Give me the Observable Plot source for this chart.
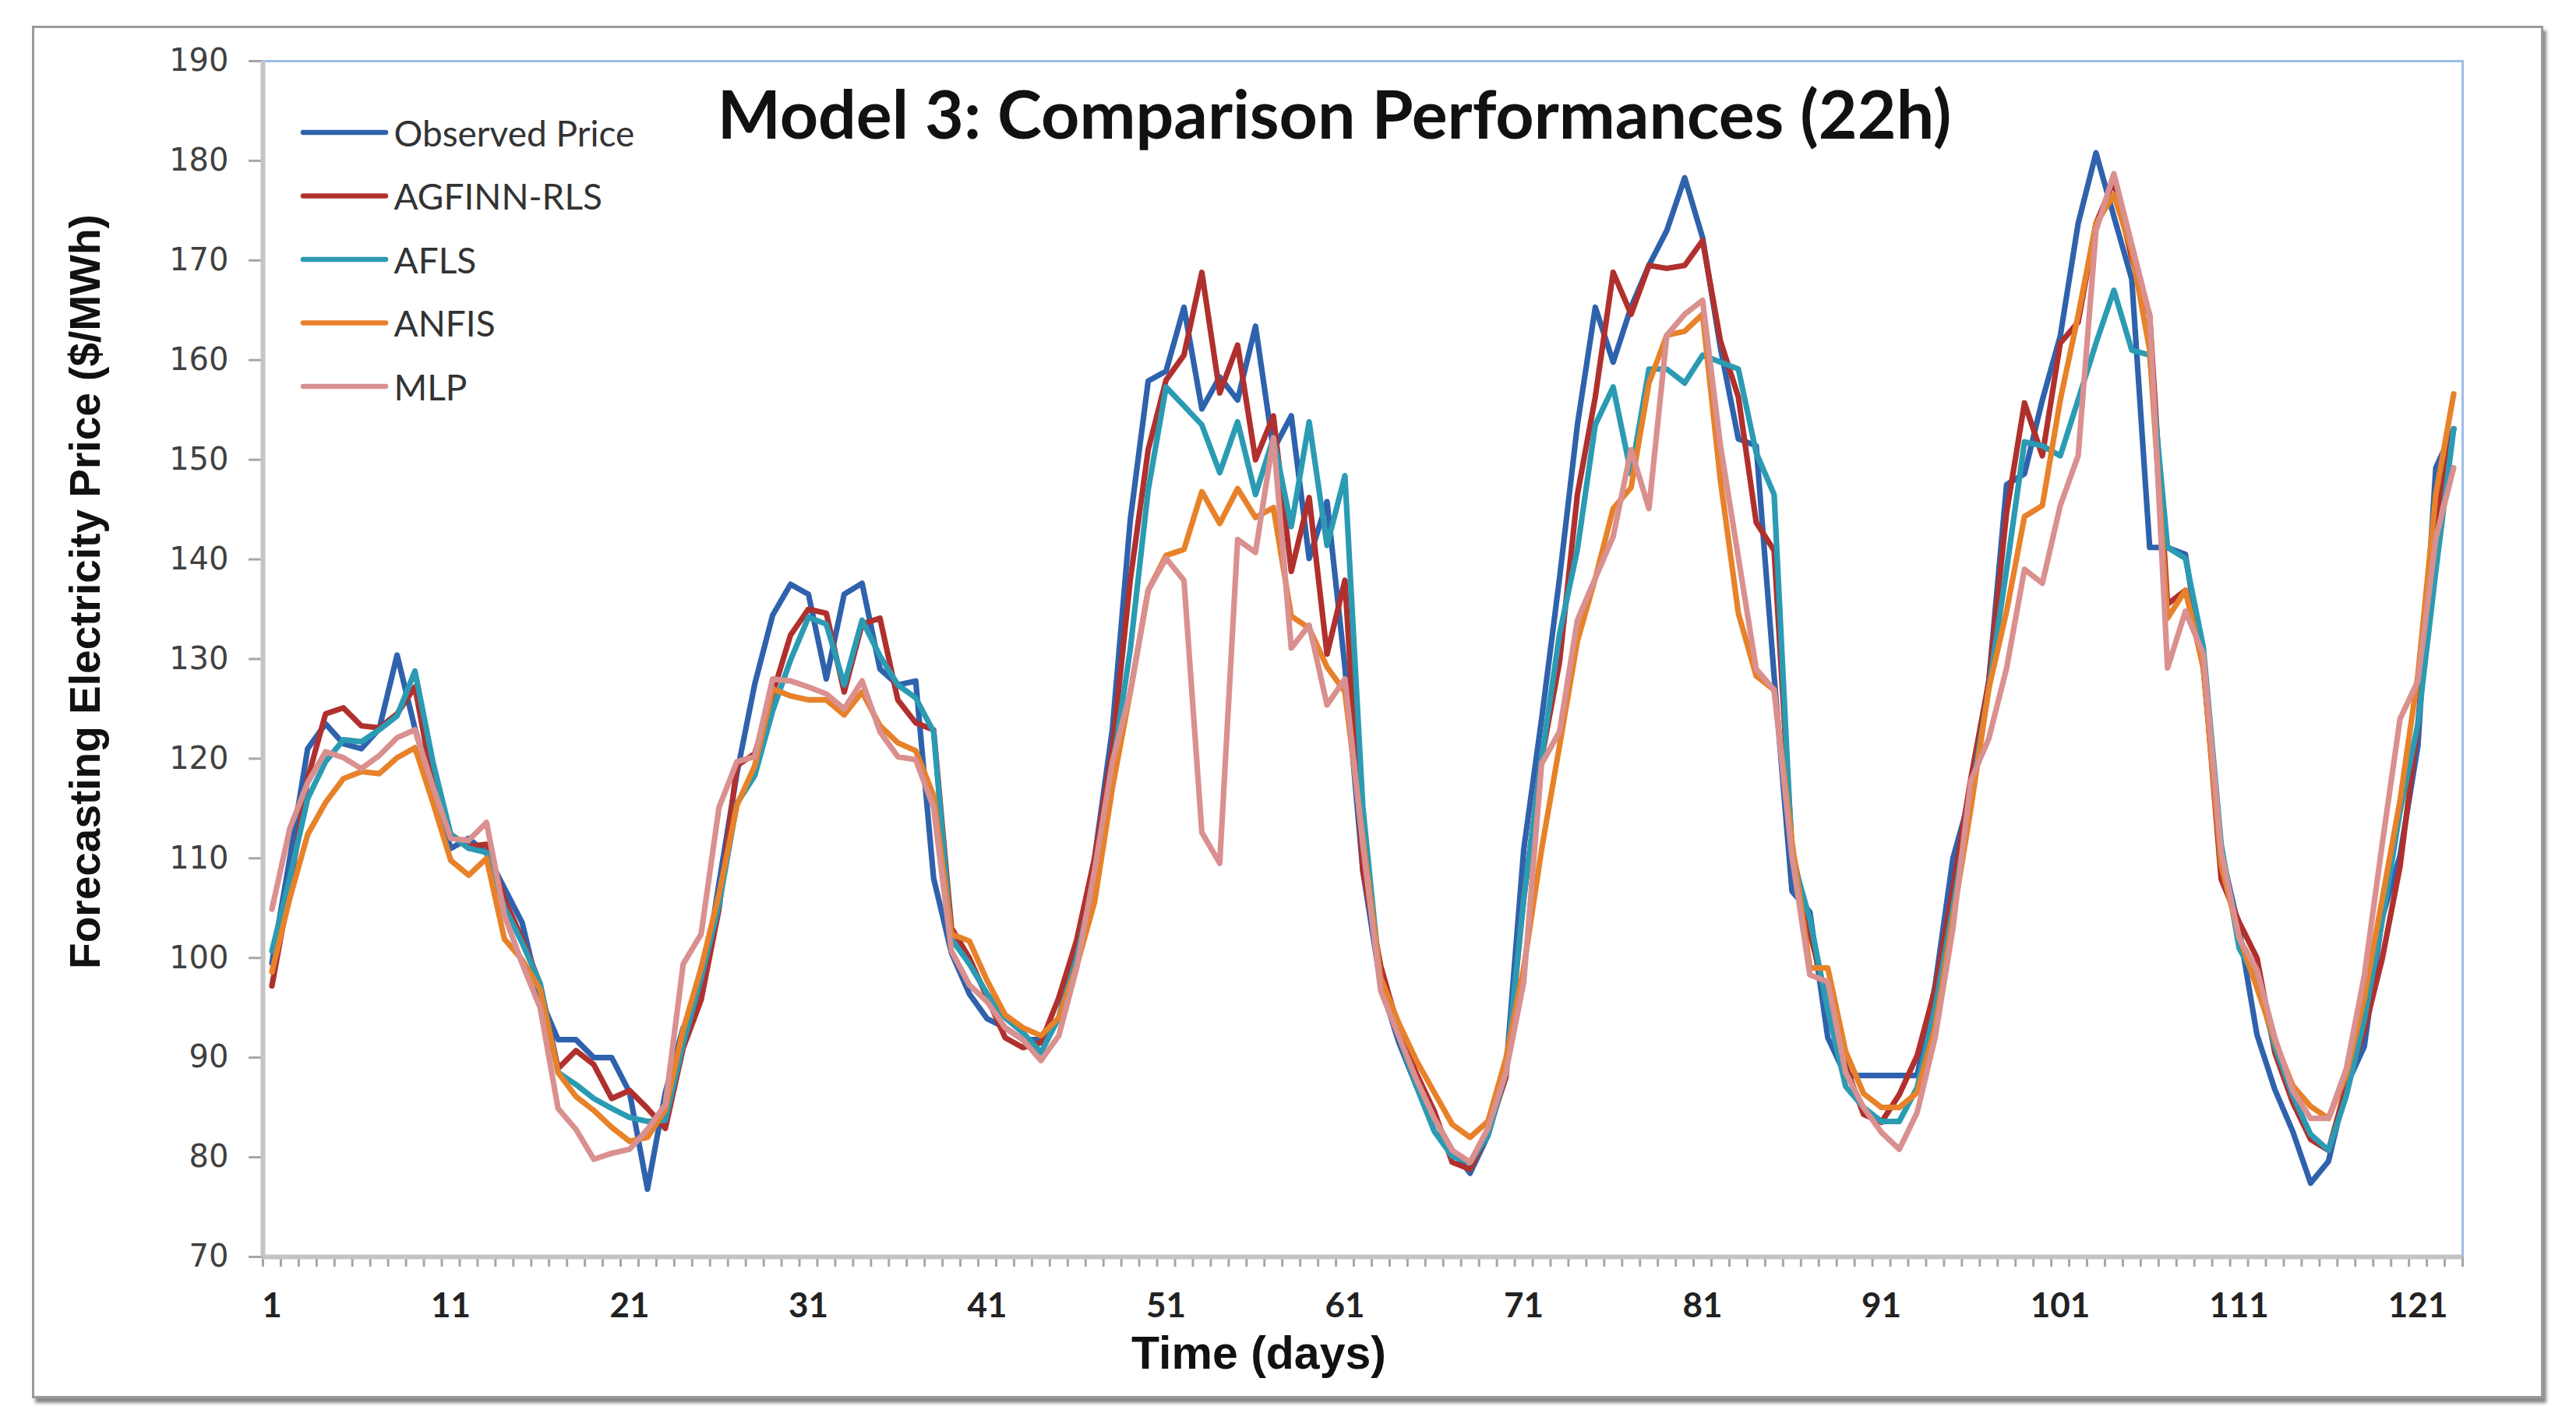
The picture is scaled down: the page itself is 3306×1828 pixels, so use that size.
<!DOCTYPE html>
<html><head><meta charset="utf-8">
<script src="https://cdn.jsdelivr.net/npm/d3@7"></script>
<script src="https://cdn.jsdelivr.net/npm/@observablehq/plot@0.6"></script>
<style>
html,body{margin:0;padding:0;background:#fff;}
#wrap{position:relative;width:3306px;height:1828px;overflow:hidden;}
#box{position:absolute;left:41px;top:33px;width:3217px;height:1756px;border:3px solid #9a9a9a;box-shadow:4px 6px 4px #8a8a8a;pointer-events:none;}
</style></head><body>
<div id="wrap"><div id="chart"></div><div id="box"></div></div>
<script>
const title = "Model 3: Comparison Performances (22h)";
const yTitle = "Forecasting Electricity Price ($/MWh)";
const xTitle = "Time (days)";
const seriesNames = ["Observed Price", "AGFINN-RLS", "AFLS", "ANFIS", "MLP"];
const seriesColors = ["#2F62AD", "#B0302E", "#2B9BB3", "#E7822A", "#D9908F"];
const days = d3.range(1, 124);
const xTicks = [1, 11, 21, 31, 41, 51, 61, 71, 81, 91, 101, 111, 121];
const yTicks = [70, 80, 90, 100, 110, 120, 130, 140, 150, 160, 170, 180, 190];

const observed = [
99.5,110,121,123.5,121.5,121,123,130.4,123,117,
111,112,110.5,107,103.5,96,91.8,91.8,90,90,
86.5,76.8,86.5,93,96,107.5,118.5,127.5,134.4,137.5,
136.5,128,136.5,137.6,129,127.4,127.8,108,100.5,96.4,
93.9,93,91.8,91.8,94,101,110,123,144,157.9,
158.9,165.3,155.1,158.3,156,163.4,151,154.4,140.1,145.8,
129.2,108.8,97.3,91.6,87.1,83.9,80.7,78.4,82.2,88.5,
110.9,124,138.1,153.5,165.3,159.8,165.3,169.5,173,178.3,
172.3,161.2,152.1,151.4,128.3,106.7,104.6,92,88.2,88.2,
88.2,88.2,88.2,97.2,110,116.4,127.7,147.5,148.6,156,
162.4,173.7,180.8,174.4,168.1,141.2,141.2,140.5,129.1,110.7,
102.9,92.3,86.8,82.6,77.4,79.6,87.2,91.1,104,110.3,
121.3,149.2,153.1];
const agfinn = [
97.2,107,118,124.5,125.1,123.3,123.1,124.5,127.2,117.5,
112.4,111.2,111.4,105.9,101.9,97.4,88.9,90.7,89.3,85.9,
86.7,84.9,82.9,91,95.8,104.9,119.3,120.5,126.5,132.4,
135,134.6,126.7,133.5,134.1,125.9,123.6,122.9,103,100,
96,92,91,91.5,96,101.8,110,121,138,151,
158,160.5,168.8,156.7,161.5,150,154.4,138.8,146.2,130.5,
137.9,108.8,99.2,92.9,88.4,84.6,79.5,78.8,82.5,88,
106,120,129.7,146.5,156.3,168.8,164.6,169.5,169.2,169.5,
172,161.9,156.3,143.7,140.9,110.9,102.5,95.5,89.2,84.3,
83.5,86.3,90.2,96.9,107,118,127.7,144.7,155.7,150.4,
161.7,163.8,173.7,178,170.2,164.5,135.5,136.9,129.8,107.9,
103.6,100,90.5,85.5,81.8,80.7,87.2,92.7,99.9,109.2,
123.5,144.3,153.1];
const afls = [
100.7,108,116,119.7,121.9,121.7,122.9,124.3,128.8,119.7,
112.4,111,110.6,105.1,101.5,97.4,88.5,87.3,85.9,84.9,
84,83.6,83.7,91.4,98,105.3,115.5,118.3,124.8,129.9,
134.2,133.5,127.4,133.9,130.3,127.4,126.1,122.7,101.9,99.4,
96.4,94,92.5,90.5,94,100,108,119,131,147,
157.3,155.4,153.5,148.7,153.8,146.5,152.2,143.3,153.8,141.4,
148.4,115.2,97.3,92.2,87.1,82.6,80.1,79.5,82.2,88.5,
106,120,132.5,141,153.5,157.3,148.6,159.1,159.1,157.7,
160.5,159.8,159.1,150.7,146.5,110.2,103.9,94.8,87.1,85,
83.6,83.6,87,95,105,116,127,139,151.8,151.4,
150.4,156,161.7,167,161,160.5,141.2,140.1,131.2,111.4,
101,97.7,91.1,86.2,82.3,80.7,86.2,93.8,103.7,114.7,
123.5,138.8,153.1];
const anfis = [
98.6,106,112.4,115.6,118,118.7,118.5,120.1,121.1,115.6,
109.8,108.3,110,101.9,99.8,96.8,88.5,86.1,84.7,83,
81.6,82,84.8,92.8,99,106.4,115.3,119.3,127,126.3,
125.9,125.9,124.4,126.7,123.3,121.6,120.8,116.3,102.4,101.7,
97.7,94.3,93,92.2,94,99.2,105.6,117.1,126.7,136.9,
140.4,141,146.8,143.6,147.1,144.2,145.2,134.3,133.1,129.2,
126.7,112,98,93.5,89.7,86.5,83.3,82,83.6,89.9,
99,110.9,121.3,131.8,138.1,145.1,147.2,157.7,162.5,162.9,
164.6,147.9,134.6,128.3,126.9,111.6,99,99,90.6,86.4,
85,85,86.5,93,104,115,127,134.8,144.3,145.4,
156,164.5,173.7,176.6,170.9,161,134.1,136.9,129.1,109.3,
102.2,97,91.7,87.2,85.1,83.9,88.3,96,105.9,115.8,
128.4,146.5,156.6];
const mlp = [
104.9,113,117.6,120.7,120.1,119,120.3,122.1,122.9,117.2,
112,111.8,113.6,104.3,99.4,95,84.9,82.8,79.8,80.4,
80.8,82.8,85.3,99.4,102.4,115.1,119.7,120.2,128,127.8,
127.2,126.5,125,127.8,122.7,120.2,119.9,115.1,100.7,97.3,
95.6,93,91.8,89.7,92.2,99,108.8,119.7,126.7,136.9,
140.1,137.9,112.6,109.5,142,140.7,152.2,131.1,133.4,125.4,
128,111.4,96.7,92.2,87.8,83.9,80.7,79.5,82.9,88.5,
97.6,119.5,122.7,133.9,138.1,142.3,151,145.1,162.5,164.6,
166,151.4,140.2,129,126.9,110.2,98.3,97.6,88.5,85,
82.5,80.8,84.5,92,103,117.8,122,129.1,139,137.6,
145.4,150.4,173,178.7,171.6,164.5,129.1,134.8,130.5,110.7,
102,98.8,92,86.7,83.9,83.9,88.9,98.2,111.4,124,
127.8,142.1,149.2];

const seriesValues = [observed, agfinn, afls, anfis, mlp];
const rows = [];
seriesNames.forEach((name, i) => {
  seriesValues[i].forEach((v, j) => rows.push({series: name, day: days[j], value: v}));
});
const boundaries = days.map(d => d - 0.5).concat([days[days.length - 1] + 0.5]);
const xDomain = [days[0] - 0.5, days[days.length - 1] + 0.5];

const W = 3306, H = 1828;
const mL = 337, mR = 146, mT = 78, mB = 215;
const plotCenterX = mL + (W - mL - mR) / 2;
const plotCenterY = mT + (H - mT - mB) / 2;

const legendLine = {draw(ctx) { ctx.moveTo(-53, 0); ctx.lineTo(53, 0); }};
const legendMarks = [];
seriesNames.forEach((name, i) => {
  const ly = 169.5 + 81.5 * i;
  legendMarks.push(Plot.dot([name], {frameAnchor: "top-left", dx: 441.5 - mL, dy: ly - mT,
    symbol: legendLine, r: 5, fill: "none", stroke: seriesColors[i], strokeWidth: 6.5, strokeLinecap: "round"}));
  legendMarks.push(Plot.text([name], {frameAnchor: "top-left", dx: 505 - mL, dy: ly + 3 - mT,
    text: d => d, textAnchor: "start", lineAnchor: "middle", fontSize: 46, fontFamily: "Lato", fill: "#333"}));
});

const chart = Plot.plot({
  width: W, height: H,
  marginLeft: mL, marginRight: mR, marginTop: mT, marginBottom: mB,
  style: {background: "transparent"},
  x: {domain: xDomain, label: null},
  y: {domain: [70, 190], label: null},
  color: {domain: seriesNames, range: seriesColors},
  marks: [
    Plot.frame({stroke: "#9dbce4", strokeWidth: 3}),
    Plot.axisX({ticks: boundaries, tickSize: 13, tickFormat: () => "", stroke: "#a6a6a6", strokeWidth: 3, label: null}),
    Plot.axisX({ticks: xTicks, tickSize: 0, tickPadding: 46, tickFormat: d => String(d), fontSize: 44, fontWeight: "bold", fontFamily: "Lato", fill: "#222", label: null}),
    Plot.axisY({ticks: yTicks, tickSize: 18, tickPadding: 26, tickFormat: d => String(d), fontSize: 40, fontFamily: "DejaVu Sans", fill: "#404040", stroke: "#a6a6a6", strokeWidth: 3, label: null}),
    Plot.ruleX([xDomain[0]], {stroke: "#c4c4c4", strokeWidth: 6}),
    Plot.ruleY([70], {stroke: "#c4c4c4", strokeWidth: 6}),
    Plot.line(rows, {x: "day", y: "value", z: "series", stroke: "series", strokeWidth: 7.2, strokeLinejoin: "round", strokeLinecap: "round"}),
    ...legendMarks,
    Plot.text([title], {frameAnchor: "top", dx: 1712 - plotCenterX, dy: 150 - mT, text: d => d, lineAnchor: "middle",
      fontSize: 86, fontWeight: "bold", fontFamily: "Lato", fill: "#111"}),
    Plot.text([yTitle], {frameAnchor: "left", rotate: -90, dx: 110 - mL, dy: 759 - plotCenterY, text: d => d,
      textAnchor: "middle", lineAnchor: "middle", fontSize: 55, fontWeight: "bold", fontFamily: "Liberation Sans", fill: "#111"}),
    Plot.text([xTitle], {frameAnchor: "bottom", dx: 1615 - plotCenterX, dy: 1738 - (H - mB), text: d => d,
      textAnchor: "middle", lineAnchor: "middle", fontSize: 59, fontWeight: "bold", fontFamily: "Liberation Sans", fill: "#111"})
  ]
});
document.getElementById("chart").appendChild(chart);
</script></body></html>
